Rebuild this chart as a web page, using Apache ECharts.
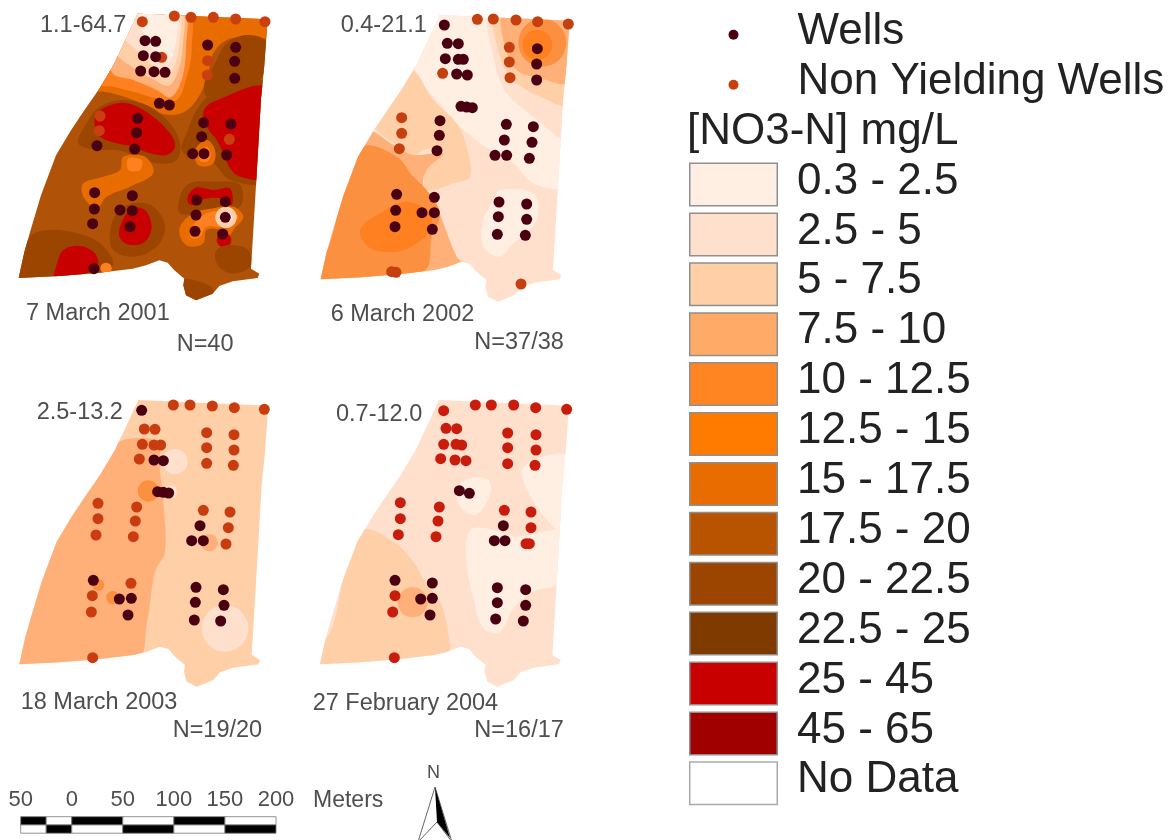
<!DOCTYPE html>
<html><head><meta charset="utf-8">
<style>html,body{margin:0;padding:0;background:#fff}#c{width:1175px;height:840px;filter:blur(.65px)}</style>
<script src="https://cdn.jsdelivr.net/npm/echarts@6/dist/echarts.min.js"></script>
</head><body><div id="c"></div>
<script>
const FONT = '"Liberation Sans", Arial, sans-serif';
const classLabels = ['0.3 - 2.5','2.5 - 5','5 - 7.5','7.5 - 10','10 - 12.5','12.5 - 15','15 - 17.5','17.5 - 20','20 - 22.5','22.5 - 25','25 - 45','45 - 65','No Data'];
const classColors = ['#FFEEE2','#FFE0CC','#FFCFA8','#FFAA66','#FF8522','#FF7B00','#E96C00','#B85400','#9C4500','#7F3A00','#C80000','#A00000','#FFFFFF'];
const mapColors   = ['#FFEEE2','#FFE0CC','#FFCFA8','#FFB078','#FB9040','#FF8020','#E96C00','#B05208','#9C4500','#7F3A00','#C80000','#A00000','#FFFFFF'];

// Study-area outline in map units (3 units = 1 picture pixel)
const boundary = [[415,45],[805,62],[795,200],[785,300],[770,560],[755,810],[780,825],[775,838],[700,848],[660,862],[640,885],[590,905],[560,890],[552,860],[555,840],[525,815],[505,792],[480,785],[440,800],[400,810],[300,822],[180,832],[58,838],[75,760],[95,690],[125,590],[170,470],[215,395],[255,335],[300,270],[345,195],[385,110]];
const boundaryShift = [[-2,-4],[4,0],[0,0],[2,0]];

// Concentration zones: [class index, outline] or [class index, [centre], radius]
const zones2001 = [
 [7,[[0,0],[900,0],[900,1000],[0,1000]]],
 [6,[[280,20],[830,20],[810,110],[740,110],[680,120],[640,160],[622,230],[590,300],[545,340],[480,340],[400,300],[310,275],[270,285],[215,350],[240,250]]],
 [5,[[300,30],[560,30],[575,150],[560,230],[530,300],[470,295],[400,275],[340,260],[290,250]]],
 [3,[[320,30],[548,30],[558,140],[545,240],[512,292],[470,270],[400,240],[335,215]]],
 [2,[[340,30],[540,30],[548,140],[532,220],[505,258],[460,238],[395,200],[350,160]]],
 [1,[[360,30],[532,30],[538,130],[522,200],[500,225],[450,190],[410,150],[370,110]]],
 [0,[[420,30],[527,30],[527,130],[505,185],[460,150],[430,100]]],
 [8,[[640,200],[680,130],[740,105],[800,125],[800,200],[760,260],[700,270],[620,290],[615,240]]],
 [8,[[235,430],[260,370],[300,320],[370,300],[450,320],[510,370],[540,430],[530,480],[470,490],[400,465],[350,450],[290,450]]],
 [8,[[590,330],[640,280],[800,250],[800,540],[690,540],[640,490],[590,480],[545,450],[560,400]]],
 [10,[[290,340],[350,310],[400,315],[460,350],[510,400],[525,440],[500,465],[450,460],[400,440],[350,430],[300,410],[285,380]]],
 [10,[[610,335],[640,305],[800,265],[790,530],[720,530],[690,505],[670,460],[650,420],[620,380]]],
 [6,[[370,470],[435,470],[460,520],[390,560],[320,590],[290,625],[250,590],[250,550],[310,530],[360,510]]],
 [5,[[385,475],[425,480],[420,510],[385,510]]],
 [6,[[585,450],[620,420],[645,450],[640,490],[610,500],[590,490]]],
 [5,[[597,470],[620,440],[632,460],[625,482],[605,485]]],
 [8,[[540,590],[570,550],[640,545],[720,555],[720,620],[640,640],[600,640],[540,640]]],
 [10,[[565,585],[590,562],[640,570],[690,565],[695,615],[660,595],[610,598],[590,615],[565,610]]],
 [6,[[540,680],[580,640],[640,625],[700,620],[730,650],[700,690],[680,720],[660,690],[620,690],[610,730],[570,740],[545,720]]],
 [5,[[570,690],[620,640],[700,635],[715,655],[670,680],[620,680],[600,710],[575,715]]],
 [2,[[678,652]],32],
 [12,[[678,652]],17],
 [10,[[672,720]],22],
 [8,[[650,750],[690,735],[745,750],[750,800],[690,820],[650,790]]],
 [8,[[330,700],[350,640],[400,610],[460,620],[495,680],[470,740],[400,770],[340,750]]],
 [10,[[360,680],[395,625],[435,630],[455,680],[435,725],[390,735],[360,715]]],
 [8,[[40,840],[90,710],[150,690],[230,700],[300,730],[340,790],[300,825],[180,840]]],
 [10,[[168,800],[190,750],[240,738],[285,760],[292,800],[230,828],[165,832]]],
 [5,[[318,805]],17],
 [8,[[545,840],[600,845],[640,870],[610,910],[555,895]]]
];
const zones2002 = [
 [1,[[0,0],[900,0],[900,1000],[0,1000]]],
 [0,[[415,35],[580,35],[590,190],[640,280],[800,410],[790,560],[700,550],[640,490],[540,430],[460,360],[400,290],[345,220],[380,130]]],
 [1,[[575,35],[820,60],[800,410],[700,350],[620,280],[585,190]]],
 [2,[[590,40],[820,60],[800,310],[720,290],[640,240],[600,170]]],
 [3,[[612,45],[820,60],[805,245],[720,235],[650,210],[615,140]]],
 [4,[[727,128]],72],
 [5,[[712,135]],45],
 [0,[[580,600],[600,570],[700,580],[715,640],[690,690],[640,730],[600,770],[550,740],[550,660]]],
 [2,[[215,360],[330,210],[400,300],[470,370],[500,440],[510,530],[460,550],[380,570],[380,500],[420,470],[430,450],[370,450],[340,470],[300,440],[240,400]]],
 [3,[[190,390],[290,440],[340,465],[430,460],[380,510],[370,560],[410,620],[470,770],[500,800],[400,820],[40,850],[90,700],[140,530]]],
 [4,[[190,440],[290,470],[340,530],[380,570],[420,640],[395,710],[375,810],[200,835],[40,850],[90,730],[135,560]]],
 [5,[[180,690],[240,640],[320,605],[390,640],[390,690],[350,730],[290,755],[210,745]]]
];
const zones2003 = [
 [2,[[0,0],[900,0],[900,1000],[0,1000]]],
 [3,[[370,165],[470,170],[480,260],[490,350],[495,500],[465,560],[440,720],[410,825],[40,850],[120,590],[180,450],[250,340],[330,200]]],
 [1,[[525,230]],38],
 [4,[[445,318]],32],
 [1,[[512,320]],20],
 [3,[[628,473]],26],
 [1,[[675,730]],70],
 [4,[[295,600]],18],
 [4,[[338,638]],20]
];
const zones2004 = [
 [1,[[0,0],[900,0],[900,1000],[0,1000]]],
 [2,[[190,435],[280,470],[340,530],[375,590],[420,650],[440,720],[438,815],[40,850],[100,720],[135,560]]],
 [3,[[338,652]],45],
 [0,[[665,260],[700,225],[800,215],[790,440],[720,380],[680,310]]],
 [0,[[475,300],[520,278],[565,285],[570,330],[530,388],[490,375],[470,340]]],
 [0,[[510,435],[560,430],[650,455],[790,440],[780,590],[700,620],[640,670],[600,740],[550,730],[520,640],[498,520]]]
];

// Wells and non-yielding wells in map units
const nonYield2001 = [[427,65],[523,48],[573,52],[640,52],[707,57],[795,65],[485,172],[623,182],[622,225],[300,348],[298,392],[688,418]];
const wells2001 = [[435,122],[467,124],[430,167],[467,170],[422,213],[462,215],[495,217],[478,310],[508,315],[413,355],[410,398],[404,447],[291,437],[611,368],[693,372],[605,410],[578,461],[612,461],[680,465],[284,578],[283,627],[278,671],[397,587],[397,632],[360,630],[390,680],[623,135],[707,142],[704,184],[704,235],[590,600],[676,605],[588,645],[676,652],[585,694],[668,702],[282,806]];
const nonYield2002 = [[532,58],[580,57],[648,60],[713,65],[805,72],[428,220],[628,142],[628,186],[630,233],[305,353],[305,400],[298,446],[275,815],[288,817],[663,852]];
const wells2002 = [[433,75],[442,130],[475,131],[436,176],[475,178],[490,178],[470,222],[502,225],[483,319],[500,321],[517,323],[420,362],[418,406],[411,452],[619,373],[700,380],[613,420],[696,427],[585,466],[620,466],[688,475],[290,583],[287,631],[285,680],[403,592],[403,638],[366,638],[397,688],[712,146],[710,192],[710,240],[597,606],[680,612],[595,650],[680,658],[592,703],[676,706]];
const nonYield2003 = [[520,60],[570,60],[637,63],[703,68],[793,73],[433,132],[465,133],[427,178],[462,180],[482,180],[418,222],[620,143],[702,149],[620,188],[702,195],[620,235],[700,241],[294,355],[410,366],[294,401],[406,408],[288,450],[400,455],[610,376],[690,381],[685,428],[678,477],[393,595],[277,632],[274,681],[278,818]];
const wells2003 = [[425,76],[462,225],[490,227],[473,320],[490,322],[506,324],[600,422],[575,467],[610,467],[280,586],[394,640],[358,642],[384,690],[588,607],[670,614],[586,652],[672,661],[583,705],[662,708]];
const nonYield2004 = [[431,77],[526,60],[574,60],[641,60],[707,68],[800,73],[438,130],[470,131],[431,178],[468,178],[485,180],[422,221],[465,225],[498,227],[623,144],[708,149],[623,188],[708,195],[623,236],[705,241],[301,353],[418,366],[301,401],[414,408],[295,449],[408,455],[613,376],[693,381],[693,428],[678,476],[688,476],[285,632],[278,681],[283,818]];
const wells2004 = [[478,317],[508,325],[610,422],[583,467],[615,467],[285,586],[397,594],[397,640],[362,642],[390,690],[592,608],[677,614],[592,653],[677,661],[587,702],[670,708]];

// Panel captions: [x, y, text]
const text2001 = [[120,76,'1.1-64.7'],[78,940,'7 March 2001'],[530,1033,'N=40']];
const text2002 = [[122,78,'0.4-21.1'],[92,943,'6 March 2002'],[523,1028,'N=37/38']];
const text2003 = [[110,83,'2.5-13.2'],[62,953,'18 March 2003'],[518,1036,'N=19/20']];
const text2004 = [[108,88,'0.7-12.0'],[38,955,'27 February 2004'],[523,1036,'N=16/17']];

const panelOrigins = [[0,0],[300,0],[0,385],[300,385]];
const panelZones = [zones2001,zones2002,zones2003,zones2004];
const panelWells = [wells2001,wells2002,wells2003,wells2004];
const panelNonYield = [nonYield2001,nonYield2002,nonYield2003,nonYield2004];
const panelText = [text2001,text2002,text2003,text2004];
const nonYieldColors = ['#C9400E','#C4400E','#C83C10','#C81C0C'];
const wellColor = '#4A0010';

// Scale bar: [from metres, to metres, row, black?]
const scaleSegments = [[-50,-25,0,1],[-25,0,0,0],[0,50,0,1],[50,100,0,0],[100,150,0,1],[150,200,0,0],
                       [-50,-25,1,0],[-25,0,1,1],[0,50,1,0],[50,100,1,1],[100,150,1,0],[150,200,1,1]];

const grids=[], xAxes=[], yAxes=[], series=[];
panelOrigins.forEach((o,i)=>{
  grids.push({left:o[0],top:o[1],width:300,height:360});
  xAxes.push({type:'value',gridIndex:i,min:0,max:900,show:false});
  yAxes.push({type:'value',gridIndex:i,min:0,max:1080,inverse:true,show:false});
  const zones=panelZones[i], shift=boundaryShift[i];
  series.push({type:'custom',xAxisIndex:i,yAxisIndex:i,coordinateSystem:'cartesian2d',silent:true,clip:false,z:1,
    data:zones.map((z,k)=>[k]),
    renderItem:(p,api)=>{
      const z=zones[p.dataIndex];
      const clip={type:'polygon',shape:{points:boundary.map(b=>api.coord([b[0]+shift[0],b[1]+shift[1]]))}};
      const fill={fill:mapColors[z[0]]};
      if(z.length===3){
        const c=api.coord(z[1][0]);
        return {type:'circle',shape:{cx:c[0],cy:c[1],r:api.size([z[2],0])[0]},style:fill,clipPath:clip};
      }
      return {type:'polygon',shape:{points:z[1].map(q=>api.coord(q)),smooth:p.dataIndex===0?0:0.35},style:fill,clipPath:clip};
    }});
  series.push({type:'scatter',xAxisIndex:i,yAxisIndex:i,silent:true,z:2,symbolSize:11,data:panelNonYield[i],itemStyle:{color:nonYieldColors[i],opacity:1}});
  series.push({type:'scatter',xAxisIndex:i,yAxisIndex:i,silent:true,z:3,symbolSize:11,data:panelWells[i],itemStyle:{color:wellColor,opacity:1}});
  series.push({type:'scatter',xAxisIndex:i,yAxisIndex:i,silent:true,z:4,symbolSize:0,data:panelText[i],itemStyle:{opacity:1},
    label:{show:true,position:'right',distance:0,formatter:q=>q.data[2],fontFamily:FONT,fontSize:23.5,color:'#4e4e4e'}});
});

// Legend panel
const legendRows=['Wells','Non Yielding Wells','[NO3-N] mg/L'].concat(classLabels);
grids.push({left:689,top:9.85,width:89,height:798.4});
xAxes.push({type:'value',gridIndex:4,min:0,max:1,show:false});
yAxes.push({type:'category',gridIndex:4,inverse:true,data:legendRows,show:false});
const legendLabel={show:true,fontFamily:FONT,fontSize:44,color:'#222'};
series.push({type:'bar',xAxisIndex:4,yAxisIndex:4,silent:true,barWidth:44,z:2,
  data:['-','-','-'].concat(classLabels.map((l,i)=>({value:1,itemStyle:{color:classColors[i],borderColor:i===12?'#aaa':'#8f8f8f',borderWidth:1.5}}))),
  label:Object.assign({},legendLabel,{position:'right',distance:19,offset:[0,-3],formatter:q=>q.name})});
series.push({type:'scatter',xAxisIndex:4,yAxisIndex:4,silent:true,z:3,symbolSize:10,
  data:[{value:[0.5,'Wells'],itemStyle:{color:wellColor,opacity:1}},{value:[0.5,'Non Yielding Wells'],itemStyle:{color:nonYieldColors[0],opacity:1}}],
  label:Object.assign({},legendLabel,{position:'right',distance:59,offset:[0,-3],formatter:q=>q.value[1]})});
series.push({type:'scatter',xAxisIndex:4,yAxisIndex:4,silent:true,z:3,symbolSize:0,itemStyle:{opacity:1},data:[[0,'[NO3-N] mg/L']],
  label:Object.assign({},legendLabel,{position:'right',distance:-2,offset:[0,-3],formatter:q=>q.value[1]})});

// Scale bar
grids.push({left:20.7,top:816.7,width:255.3,height:16.5});
xAxes.push({type:'value',gridIndex:5,position:'top',min:-50,max:200,interval:50,
  axisLine:{show:false},axisTick:{show:false},splitLine:{show:false},
  axisLabel:{show:true,formatter:v=>String(Math.abs(v)),fontFamily:FONT,fontSize:22,color:'#4e4e4e',margin:6,hideOverlap:false}});
yAxes.push({type:'value',gridIndex:5,min:0,max:2,inverse:true,show:false});
series.push({type:'custom',xAxisIndex:5,yAxisIndex:5,coordinateSystem:'cartesian2d',silent:true,clip:false,data:scaleSegments,
  renderItem:(p,api)=>{
    const a=api.coord([api.value(0),api.value(2)]), b=api.coord([api.value(1),api.value(2)+1]);
    return {type:'rect',shape:{x:a[0],y:a[1],width:b[0]-a[0],height:b[1]-a[1]},
      style:{fill:api.value(3)?'#000':'#fff',stroke:'#777',lineWidth:.8}};
  }});

const chart=echarts.init(document.getElementById('c'),null,{renderer:'canvas',width:1175,height:840});
chart.setOption({animation:false,backgroundColor:'#fff',grid:grids,xAxis:xAxes,yAxis:yAxes,series:series,
  graphic:[
    {type:'text',left:313,top:789,style:{text:'Meters',font:'23px '+FONT,fill:'#4e4e4e'}},
    {type:'text',left:427,top:764,style:{text:'N',font:'18px '+FONT,fill:'#4e4e4e'}},
    {type:'polygon',shape:{points:[[435,787],[418,842],[437,822],[452,842]]},style:{fill:'#fff',stroke:'#666',lineWidth:1}},
    {type:'polygon',shape:{points:[[435,787],[450,838],[437,822]]},style:{fill:'#000'}}
  ]});
</script></body></html>
